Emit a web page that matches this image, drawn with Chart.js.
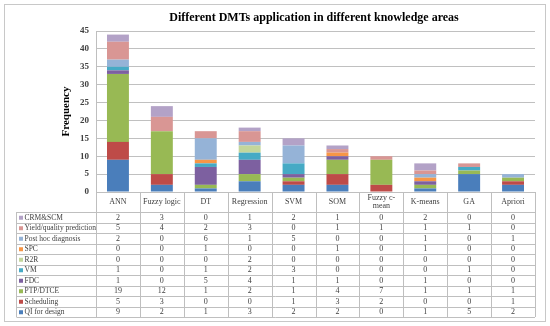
<!DOCTYPE html>
<html>
<head>
<meta charset="utf-8">
<script src="https://cdn.jsdelivr.net/npm/chart.js@4.4.1/dist/chart.umd.min.js"></script>
<style>
  html, body { margin: 0; padding: 0; background: #fff; }
  #wrap { position: relative; width: 550px; height: 326px; }
</style>
</head>
<body>
<div id="wrap"><canvas id="grafico" width="550" height="326"></canvas></div>
<script>
// categorias (técnicas)
const categories = ['ANN', 'Fuzzy logic', 'DT', 'Regression', 'SVM', 'SOM', ['Fuzzy c-', 'mean'], 'K-means', 'GA', 'Apriori'];

// series, de baixo para cima
const qiDesign   = [9, 2, 1, 3, 2, 2, 0, 1, 5, 2];
const scheduling = [5, 3, 0, 0, 1, 3, 2, 0, 0, 1];
const ptpDtce    = [19, 12, 1, 2, 1, 4, 7, 1, 1, 1];
const fdc        = [1, 0, 5, 4, 1, 1, 0, 1, 0, 0];
const vm         = [1, 0, 1, 2, 3, 0, 0, 0, 1, 0];
const r2r        = [0, 0, 0, 2, 0, 0, 0, 0, 0, 0];
const spc        = [0, 0, 1, 0, 0, 1, 0, 1, 0, 0];
const postHoc    = [2, 0, 6, 1, 5, 0, 0, 1, 0, 1];
const yieldPred  = [5, 4, 2, 3, 0, 1, 1, 1, 1, 0];
const crmScm     = [2, 3, 0, 1, 2, 1, 0, 2, 0, 0];

const yTicks = [0, 5, 10, 15, 20, 25, 30, 35, 40, 45];

const series = [
    { label: 'QI for design', data: qiDesign, color: '#4A7EBB' },
    { label: 'Scheduling', data: scheduling, color: '#BE4B48' },
    { label: 'PTP/DTCE', data: ptpDtce, color: '#98B954' },
    { label: 'FDC', data: fdc, color: '#7D60A0' },
    { label: 'VM', data: vm, color: '#46AAC5' },
    { label: 'R2R', data: r2r, color: '#C3D69B' },
    { label: 'SPC', data: spc, color: '#F79646' },
    { label: 'Post hoc diagnosis', data: postHoc, color: '#95B3D7' },
    { label: 'Yield/quality prediction', data: yieldPred, color: '#D99694' },
    { label: 'CRM&SCM', data: crmScm, color: '#B3A2C7' }
];

const serif = '"Liberation Serif", "DejaVu Serif", serif';

// tabela de dados desenhada abaixo do gráfico
const dataTable = {
    id: 'dataTable',
    afterDraw(chart) {
        const ctx = chart.ctx;
        const x = chart.scales.x;
        const area = chart.chartArea;
        const colW = x.width / categories.length;
        const top = area.bottom;
        const headerH = 20;
        const rowH = 10.5;
        const legendLeft = 16.5;
        const rows = series.slice().reverse();
        const tableBottom = top + headerH + rowH * rows.length;

        ctx.save();
        ctx.strokeStyle = '#bfbfbf';
        ctx.lineWidth = 1;

        // linhas verticais
        ctx.beginPath();
        for (let i = 0; i <= categories.length; i++) {
            const px = Math.round(area.left + i * colW) + 0.5;
            ctx.moveTo(px, top);
            ctx.lineTo(px, tableBottom);
        }
        ctx.moveTo(legendLeft, top + headerH);
        ctx.lineTo(legendLeft, tableBottom);
        // linhas horizontais
        for (let r = 0; r <= rows.length; r++) {
            const py = Math.round(top + headerH + r * rowH) + 0.5;
            ctx.moveTo(legendLeft, py);
            ctx.lineTo(area.right, py);
        }
        ctx.stroke();

        // cabeçalho
        ctx.fillStyle = '#404040';
        ctx.font = '8px ' + serif;
        ctx.textAlign = 'center';
        ctx.textBaseline = 'middle';
        categories.forEach(function(c, i) {
            const cx = x.getPixelForValue(i);
            const lines = Array.isArray(c) ? c : [c];
            lines.forEach(function(l, k) {
                ctx.fillText(l, cx, top + headerH / 2 + (k - (lines.length - 1) / 2) * 8.5);
            });
        });

        // linhas de dados
        rows.forEach(function(s, r) {
            const cy = top + headerH + r * rowH + rowH / 2 + 0.5;
            ctx.fillStyle = s.color;
            ctx.fillRect(legendLeft + 2.5, cy - 2, 4, 4);
            ctx.fillStyle = '#404040';
            ctx.font = '7.5px ' + serif;
            ctx.textAlign = 'left';
            ctx.fillText(s.label, legendLeft + 8, cy);
            ctx.font = '8px ' + serif;
            ctx.textAlign = 'center';
            s.data.forEach(function(v, i) {
                ctx.fillText(String(v), x.getPixelForValue(i), cy);
            });
        });

        // moldura externa
        ctx.strokeStyle = '#c8c8c8';
        ctx.strokeRect(4.5, 4.5, 541, 317);
        ctx.restore();
    }
};

const ctx = document.getElementById('grafico').getContext('2d');
new Chart(ctx, {
    type: 'bar',
    data: {
        labels: categories,
        datasets: series.map(function(s) {
            return {
                label: s.label,
                data: s.data,
                backgroundColor: s.color,
                borderWidth: 0,
                barPercentage: 0.5,
                categoryPercentage: 1
            };
        })
    },
    options: {
        responsive: false,
        animation: false,
        layout: { padding: { left: 0, right: 15, top: 31, bottom: 134 } },
        plugins: {
            legend: { display: false },
            tooltip: { enabled: false },
            title: { display: false }
        },
        scales: {
            x: {
                stacked: true,
                ticks: { display: false },
                grid: { display: false, drawTicks: false },
                border: { display: true, color: '#bfbfbf' }
            },
            y: {
                stacked: true,
                min: 0,
                max: 45,
                afterBuildTicks: function(scale) {
                    scale.ticks = yTicks.map(function(v) { return { value: v }; });
                },
                afterFit: function(scale) { scale.width = 96; },
                ticks: {
                    color: '#404040',
                    font: { family: serif, size: 9, weight: 'bold' },
                    padding: 7
                },
                grid: { color: '#c0c0c0', drawTicks: false },
                border: { display: true, color: '#bfbfbf' },
                title: {
                    display: true,
                    text: 'Frequency',
                    color: '#000',
                    font: { family: serif, size: 11, weight: 'bold' },
                    padding: { top: 60, bottom: 0 }
                }
            }
        }
    },
    plugins: [dataTable, {
        id: 'chartTitle',
        afterDraw(chart) {
            const c = chart.ctx;
            c.save();
            c.fillStyle = '#000';
            c.font = 'bold 12px ' + serif;
            c.textAlign = 'center';
            c.textBaseline = 'middle';
            c.fillText('Different DMTs application in different knowledge areas', 314, 18);
            c.restore();
        }
    }]
});
</script>
</body>
</html>
